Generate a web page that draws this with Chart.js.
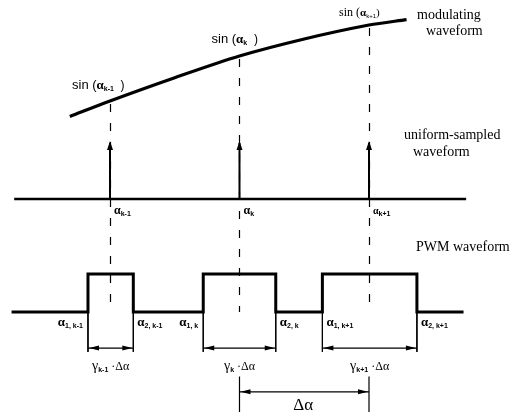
<!DOCTYPE html>
<html>
<head>
<meta charset="utf-8">
<script src="https://cdn.jsdelivr.net/npm/chart.js@4.4.0/dist/chart.umd.min.js"></script>
<style>
html, body { margin: 0; padding: 0; background: #fff; }
#wrap { width: 520px; height: 412px; }
</style>
</head>
<body>
<div id="wrap"><canvas id="chart" width="520" height="412"></canvas></div>
<script>
// sample instants in units of delta alpha (alpha_k = 0)
const sampleAlpha = [-1, 0, 1]
const sampleNames = ['k-1', 'k', 'k+1']
const sampleHeight = [1, 1, 1]
// modulating waveform
const curveAlpha = [-1.31, -1, -0.5, 0, 0.5, 1, 1.29]
const curveValue = [0.32, 0.42, 0.57, 0.71, 0.82, 0.91, 0.945]
// PWM pulse edges alpha_1 / alpha_2
const pulseStart = [-1.17, -0.28, 0.64]
const pulseEnd = [-0.82, 0.28, 1.37]
const pulseLevel = 1
// extent of the two time axes
const axisSampled = [-1.74, 1.75]
const axisPwm = [-1.76, 1.73]

// layout (pwm units, below the baseline)
const dimLevel = -0.95
const dimLow = -1.05
const deltaLevel = -2.1
const deltaTop = -1.7
const deltaBottom = -2.7

const SERIF = '"Liberation Serif", "DejaVu Serif", serif'
const SANS = '"Liberation Sans", "DejaVu Sans", sans-serif'

function sampleValue(a) {
    return curveValue[curveAlpha.indexOf(a)]
}

function pts(list) {
    return list.map(p => p === null ? { x: NaN, y: null } : { x: p[0], y: p[1] })
}

// stems of the uniform-sampled waveform
let stemPts = []
sampleAlpha.forEach((a, i) => {
    stemPts.push([a, 0], [a, sampleHeight[i]], null)
})

// pwm step waveform
let pwmPts = [[axisPwm[0], 0]]
pulseStart.forEach((s, i) => {
    pwmPts.push([s, 0], [s, pulseLevel], [pulseEnd[i], pulseLevel], [pulseEnd[i], 0])
})
pwmPts.push([axisPwm[1], 0])

// dimension lines
let dimV = [], dimH = []
pulseStart.forEach((s, i) => {
    dimV.push([s, 0], [s, dimLow], null, [pulseEnd[i], 0], [pulseEnd[i], dimLow], null)
    dimH.push([s, dimLevel], [pulseEnd[i], dimLevel], null)
})
let deltaPts = [
    [sampleAlpha[1], deltaLevel], [sampleAlpha[2], deltaLevel], null,
    [sampleAlpha[1], deltaTop], [sampleAlpha[1], deltaBottom], null,
    [sampleAlpha[2], deltaTop], [sampleAlpha[2], deltaBottom]
]

function line(data, axis, width) {
    return {
        data: pts(data),
        yAxisID: axis,
        borderColor: '#000',
        borderWidth: width,
        pointRadius: 0,
        spanGaps: false,
        tension: 0,
        borderJoinStyle: 'miter',
        borderCapStyle: 'butt'
    }
}

// draws text runs: [text, font, dy]
function runs(ctx, x, y, parts, align) {
    ctx.save()
    ctx.fillStyle = '#000'
    ctx.textBaseline = 'alphabetic'
    let w = 0
    parts.forEach(p => { ctx.font = p[1]; w += ctx.measureText(p[0]).width })
    let cx = align === 'right' ? x - w : align === 'center' ? x - w / 2 : x
    parts.forEach(p => {
        ctx.font = p[1]
        ctx.fillText(p[0], cx, y + (p[2] || 0))
        cx += ctx.measureText(p[0]).width
    })
    ctx.restore()
}

function head(ctx, x, y, dx, dy, len, half) {
    ctx.beginPath()
    ctx.moveTo(x, y)
    ctx.lineTo(x - dx * len - dy * half, y - dy * len + dx * half)
    ctx.lineTo(x - dx * len + dy * half, y - dy * len - dx * half)
    ctx.closePath()
    ctx.fill()
}

const alphaF = 'bold 13px ' + SERIF
const subF = 'bold 7px ' + SANS

const diagram = {
    id: 'diagram',
    beforeDatasetsDraw(chart) {
        const ctx = chart.ctx
        const xs = chart.scales.x, ym = chart.scales.yMod, yp = chart.scales.yPwm
        ctx.save()
        ctx.strokeStyle = '#000'
        ctx.lineWidth = 1.2
        ctx.setLineDash([8, 11])
        sampleAlpha.forEach(a => {
            const x = Math.round(xs.getPixelForValue(a)) + 0.5
            ctx.beginPath()
            ctx.moveTo(x, ym.getPixelForValue(sampleValue(a)) + 3)
            ctx.lineTo(x, yp.getPixelForValue(0))
            ctx.stroke()
        })
        ctx.restore()
    },
    afterDatasetsDraw(chart) {
        const ctx = chart.ctx
        const xs = chart.scales.x, ym = chart.scales.yMod
        const ys = chart.scales.ySamp, yp = chart.scales.yPwm
        ctx.save()
        ctx.fillStyle = '#000'
        // arrow heads on the samples
        sampleAlpha.forEach((a, i) => {
            head(ctx, xs.getPixelForValue(a), ys.getPixelForValue(sampleHeight[i]) - 2, 0, -1, 9, 3)
        })
        // dimension arrow heads
        pulseStart.forEach((s, i) => {
            const y = yp.getPixelForValue(dimLevel)
            const x1 = xs.getPixelForValue(s), x2 = xs.getPixelForValue(pulseEnd[i])
            head(ctx, x1 + 1, y, -1, 0, 10, 2.5)
            head(ctx, x2 - 1, y, 1, 0, 10, 2.5)
        })
        const dy = yp.getPixelForValue(deltaLevel)
        head(ctx, xs.getPixelForValue(sampleAlpha[1]) + 1, dy, -1, 0, 10, 2.5)
        head(ctx, xs.getPixelForValue(sampleAlpha[2]) - 1, dy, 1, 0, 10, 2.5)
        ctx.restore()

        // sin labels above the curve
        const sinF = '13px ' + SANS
        const sinOff = [[-38, -12], [-28, -13], [-30, -9]]
        sampleAlpha.forEach((a, i) => {
            const x = xs.getPixelForValue(a) + sinOff[i][0]
            const y = ym.getPixelForValue(sampleValue(a)) + sinOff[i][1]
            if (i < 2) {
                runs(ctx, x, y, [['sin (', sinF], ['α', alphaF], [sampleNames[i], subF, 2], ['  )', '12px ' + SANS]])
            } else {
                runs(ctx, x, y, [['sin (', '12px ' + SERIF], ['α', 'bold 11px ' + SERIF], [sampleNames[i], '6px ' + SANS, 2], [')', '11px ' + SERIF]])
            }
        })
        // sample instants
        sampleAlpha.forEach((a, i) => {
            const sz = i === 2 ? 10 : 12
            runs(ctx, xs.getPixelForValue(a) + 4, ys.getPixelForValue(0) + 15,
                [['α', 'bold ' + sz + 'px ' + SERIF], [sampleNames[i], subF, 2]])
        })
        // pulse edges
        const ey = yp.getPixelForValue(0) + 14
        pulseStart.forEach((s, i) => {
            const x1 = xs.getPixelForValue(s), x2 = xs.getPixelForValue(pulseEnd[i])
            const p1 = [['α', alphaF], ['1, ' + sampleNames[i], subF, 2]]
            const p2 = [['α', alphaF], ['2, ' + sampleNames[i], subF, 2]]
            if (i === 2) runs(ctx, x1 + 4, ey, p1)
            else runs(ctx, x1 - 5, ey, p1, 'right')
            runs(ctx, x2 + 4, ey, p2)
            // gamma label
            const gx = (x1 + x2) / 2
            runs(ctx, gx, yp.getPixelForValue(dimLevel) + 22,
                [['γ', '14px ' + SERIF], [sampleNames[i], subF, 2], [' ·Δα', '12px ' + SERIF]], 'center')
        })
        runs(ctx, (xs.getPixelForValue(sampleAlpha[1]) + xs.getPixelForValue(sampleAlpha[2])) / 2 - 1,
            yp.getPixelForValue(deltaLevel) + 18, [['Δα', '17px ' + SERIF]], 'center')

        // waveform names
        const nf = '14px ' + SERIF
        runs(ctx, 417, 19, [['modulating', nf]])
        runs(ctx, 426, 35, [['waveform', nf]])
        runs(ctx, 404, 139, [['uniform-sampled', nf]])
        runs(ctx, 413, 156, [['waveform', nf]])
        runs(ctx, 416, 251, [['PWM waveform', nf]])
    }
}

const ctx = document.getElementById('chart').getContext('2d')
const chart = new Chart(ctx, {
    type: 'line',
    data: {
        datasets: [
            Object.assign(line(curveAlpha.map((a, i) => [a, curveValue[i]]), 'yMod', 3.2), { tension: 0.3 }),
            line([[axisSampled[0], 0], [axisSampled[1], 0]], 'ySamp', 2.6),
            line(stemPts, 'ySamp', 2),
            line(pwmPts, 'yPwm', 3),
            line(dimV, 'yPwm', 1),
            line(dimH, 'yPwm', 1.4),
            line(deltaPts, 'yPwm', 1.2)
        ]
    },
    options: {
        responsive: false,
        animation: false,
        layout: { padding: 0 },
        plugins: { legend: { display: false }, tooltip: { enabled: false } },
        scales: {
            x: { type: 'linear', min: -1.8494, max: 2.166, display: false },
            yMod: { type: 'linear', min: -1.5865, max: 1.0716, display: false },
            ySamp: { type: 'linear', min: -3.804, max: 3.554, display: false },
            yPwm: { type: 'linear', min: -2.632, max: 8.21, display: false }
        }
    },
    plugins: [diagram]
})
</script>
</body>
</html>
